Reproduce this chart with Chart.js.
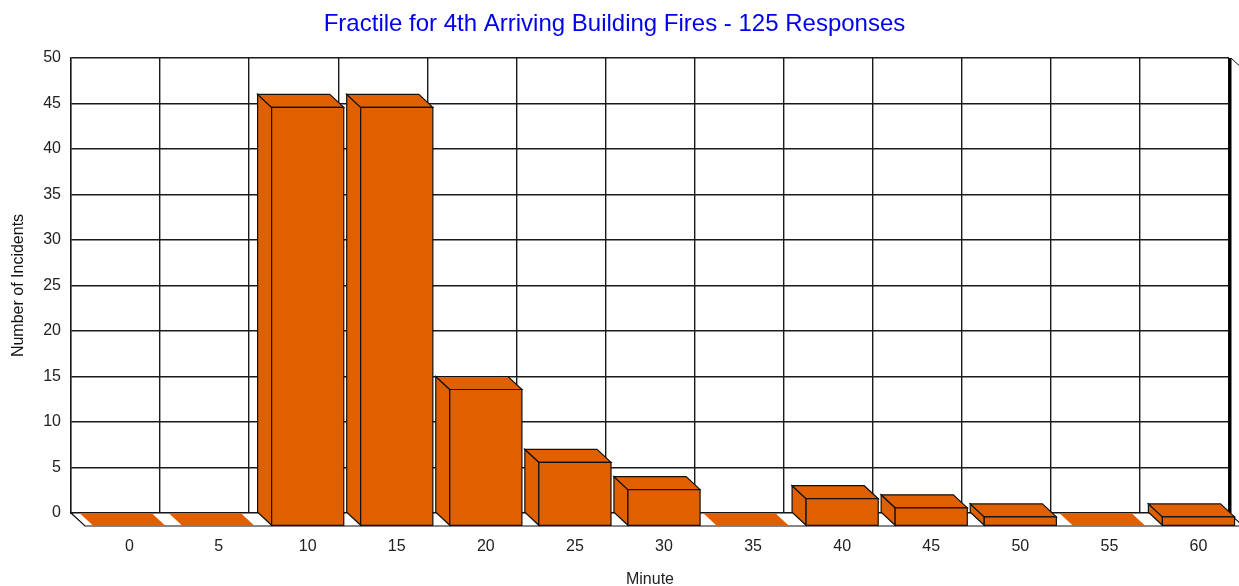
<!DOCTYPE html>
<html><head><meta charset="utf-8">
<script src="https://cdn.jsdelivr.net/npm/chart.js@4.4.1/dist/chart.umd.min.js"></script>
<style>html,body{margin:0;padding:0;background:#fff;overflow:hidden}#wrap{width:1239px;height:586px}</style>
</head><body><div id="wrap"><canvas id="c" width="1239" height="586"></canvas></div>
<script>
const categories = ['0','5','10','15','20','25','30','35','40','45','50','55','60'];
const incidents = [0, 0, 46, 46, 15, 7, 4, 0, 3, 2, 1, 0, 1];
const yMin = 0, yMax = 50, yStep = 5;
const chartTitle = 'Fractile for 4th Arriving Building Fires - 125 Responses';
const xTitle = 'Minute';
const yTitle = 'Number of Incidents';

const DX = 14, DY = 13;
const BAR = '#E06000', EDGE = '#111', GRID = '#1a1a1a';

function poly(ctx, pts, fill, stroke) {
  ctx.beginPath();
  ctx.moveTo(pts[0][0], pts[0][1]);
  for (let i = 1; i < pts.length; i++) ctx.lineTo(pts[i][0], pts[i][1]);
  ctx.closePath();
  ctx.fillStyle = fill; ctx.fill();
  if (stroke) { ctx.strokeStyle = stroke; ctx.lineWidth = 1.2; ctx.stroke(); }
}

const box3d = {
  id: 'box3d',
  afterDatasetsDraw(chart) {
    const ctx = chart.ctx, a = chart.chartArea;
    ctx.save();
    // floor
    poly(ctx, [[a.left, a.bottom], [a.right, a.bottom], [a.right + DX, a.bottom + DY], [a.left + DX, a.bottom + DY]], '#fff', EDGE);
    // right wall edge
    ctx.strokeStyle = '#000'; ctx.lineWidth = 3;
    ctx.beginPath(); ctx.moveTo(a.right + 1, a.top); ctx.lineTo(a.right + 1, a.bottom); ctx.stroke();
    ctx.lineWidth = 1; ctx.strokeStyle = EDGE;
    ctx.beginPath(); ctx.moveTo(a.right + 2, a.top); ctx.lineTo(a.right + 2 + DX, a.top + DY); ctx.stroke();
    const meta = chart.getDatasetMeta(0);
    meta.data.forEach((bar) => {
      const p = bar.getProps(['x', 'y', 'base', 'width'], true);
      const l = p.x - p.width / 2, r = p.x + p.width / 2, y = p.y, b = p.base;
      const flat = Math.abs(b - y) < 0.5;
      if (flat) {
        poly(ctx, [[l, y], [r, y], [r + DX, y + DY], [l + DX, y + DY]], BAR, null);
        return;
      }
      poly(ctx, [[l, y], [l + DX, y + DY], [l + DX, b + DY], [l, b]], BAR, EDGE);
      poly(ctx, [[l, y], [r, y], [r + DX, y + DY], [l + DX, y + DY]], BAR, EDGE);
      poly(ctx, [[l + DX, y + DY], [r + DX, y + DY], [r + DX, b + DY], [l + DX, b + DY]], BAR, EDGE);
    });
    ctx.restore();
  }
};

Chart.defaults.font.family = "'Liberation Sans', Arial, sans-serif";
Chart.defaults.color = '#222';

new Chart(document.getElementById('c'), {
  type: 'bar',
  data: {
    labels: categories,
    datasets: [{
      label: 'Incidents',
      data: incidents,
      backgroundColor: 'rgba(0,0,0,0)',
      borderWidth: 0,
      barPercentage: 0.81,
      categoryPercentage: 1.0
    }]
  },
  options: {
    responsive: false,
    animation: false,
    devicePixelRatio: 1,
    layout: { padding: { left: 0, right: 10, top: 0, bottom: 0 } },
    plugins: {
      legend: { display: false },
      tooltip: { enabled: false },
      title: {
        display: true,
        text: chartTitle,
        color: '#0000F0',
        font: { size: 24, weight: 'normal', lineHeight: 1.2 },
        padding: { top: 10, bottom: 19.2 }
      }
    },
    scales: {
      x: {
        type: 'category',
        offset: true,
        grid: { offset: true, color: GRID, lineWidth: 1.4, drawTicks: false },
        border: { display: true, color: GRID, width: 1.4 },
        ticks: { labelOffset: DX, padding: 24, font: { size: 16 }, color: '#222', maxRotation: 0 },
        title: { display: true, text: xTitle, color: '#222', font: { size: 16, lineHeight: 0.8 }, padding: { top: 0, bottom: 0 } },
        afterFit(s) { s.height = 73; }
      },
      y: {
        min: yMin, max: yMax,
        grid: { color: GRID, lineWidth: 1.4, drawTicks: false },
        border: { display: true, color: GRID, width: 1.4 },
        ticks: { stepSize: yStep, padding: 10, font: { size: 16 }, color: '#222' },
        title: { display: true, text: yTitle, color: '#111', font: { size: 16, lineHeight: 1.2 }, padding: { top: 9, bottom: 0 } },
        afterFit(s) { s.width = 71; }
      }
    }
  },
  plugins: [box3d]
});
</script>
</body></html>
